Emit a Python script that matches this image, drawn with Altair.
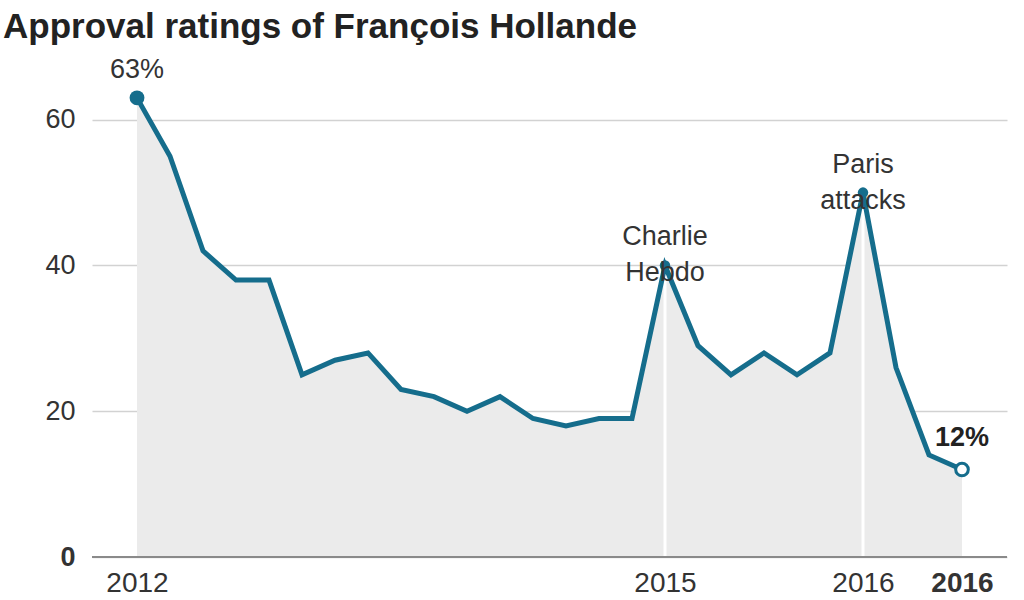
import altair as alt
import pandas as pd

# ---- data ----
period = list(range(26))
approval = [63, 55, 42, 38, 38, 25, 27, 28, 23, 22, 20, 22, 19, 18, 19, 19,
            40, 29, 25, 28, 25, 28, 50, 26, 14, 12]
tick_pos = [0, 16, 22, 25]
tick_labels = ["2012", "2015", "2016", "2016"]
y_ticks = [0, 20, 40, 60]
event_idx = [16, 22]
event_labels = ["Charlie\nHebdo", "Paris\nattacks"]

FONT = "Liberation Sans"
TEAL = "#156d8c"

df = pd.DataFrame({"i": period, "v": approval})
events = pd.DataFrame({"i": event_idx, "v": [approval[k] for k in event_idx],
                       "label": event_labels})
first = df.iloc[[0]].assign(label=lambda d: d["v"].astype(int).astype(str) + "%")
last = df.iloc[[-1]].assign(label=lambda d: d["v"].astype(int).astype(str) + "%")
zero = pd.DataFrame({"v": [0]})

label_expr = " : ".join(
    f"datum.value == {p} ? '{l}'" for p, l in zip(tick_pos, tick_labels)
) + " : ''"

xs = alt.Scale(domain=[-1.364, 26.364], nice=False, zero=False)
ys = alt.Scale(domain=[0, 66], nice=False)

x_enc = alt.X("i:Q", scale=xs, title=None,
              axis=alt.Axis(values=tick_pos, labelExpr=label_expr, grid=False,
                            ticks=False, domain=False, labelFontSize=28,
                            labelFont=FONT, labelColor="#333", labelPadding=12,
                            labelFontWeight=alt.ExprRef(expr="datum.value == 25 ? 'bold' : 'normal'"),
                            labelFlush=False, labelOverlap=False))
y_enc = alt.Y("v:Q", scale=ys, title=None,
              axis=alt.Axis(values=y_ticks, grid=True, gridColor="#d2d2d2",
                            gridWidth=1.5, ticks=False, domain=False,
                            labelFontSize=27, labelFont=FONT, labelColor="#333",
                            labelPadding=17, labelAlign="right",
                            labelBaseline="middle",
                            labelFontWeight=alt.ExprRef(expr="datum.value == 0 ? 'bold' : 'normal'")))

base = alt.Chart(df)

area = base.mark_area(color="#ebebeb", opacity=1).encode(x=x_enc, y=y_enc)

white_rules = alt.Chart(events).mark_rule(color="white", strokeWidth=3).encode(
    x=alt.X("i:Q", scale=xs), y=alt.Y("v:Q", scale=ys), y2=alt.datum(0))

zero_rule = alt.Chart(zero).mark_rule(color="#8a8a8a", strokeWidth=2).encode(
    y=alt.Y("v:Q", scale=ys))

line = base.mark_line(color=TEAL, strokeWidth=5).encode(
    x=alt.X("i:Q", scale=xs), y=alt.Y("v:Q", scale=ys))

first_pt = alt.Chart(first).mark_point(filled=True, color=TEAL, size=220, opacity=1).encode(
    x=alt.X("i:Q", scale=xs), y=alt.Y("v:Q", scale=ys))
event_pts = alt.Chart(events).mark_point(filled=True, color=TEAL, size=110, opacity=1).encode(
    x=alt.X("i:Q", scale=xs), y=alt.Y("v:Q", scale=ys))
last_pt = alt.Chart(last).mark_point(filled=True, fill="white", stroke=TEAL,
                                     strokeWidth=3, size=160, opacity=1).encode(
    x=alt.X("i:Q", scale=xs), y=alt.Y("v:Q", scale=ys))

first_txt = alt.Chart(first).mark_text(font=FONT, fontSize=27, color="#333",
                                       baseline="middle", dy=-28).encode(
    x=alt.X("i:Q", scale=xs), y=alt.Y("v:Q", scale=ys), text="label:N")
last_txt = alt.Chart(last).mark_text(font=FONT, fontSize=27, fontWeight="bold",
                                     color="#222", baseline="middle", dy=-32).encode(
    x=alt.X("i:Q", scale=xs), y=alt.Y("v:Q", scale=ys), text="label:N")
event_txt = alt.Chart(events).mark_text(font=FONT, fontSize=27, color="#333",
                                        baseline="middle", lineBreak="\n",
                                        lineHeight=36, dy=-28).encode(
    x=alt.X("i:Q", scale=xs), y=alt.Y("v:Q", scale=ys), text="label:N")

chart = alt.layer(
    area, white_rules, zero_rule, line, first_pt, event_pts, last_pt,
    first_txt, last_txt, event_txt
).properties(
    width=915, height=481,
    padding={"left": 92, "top": 76, "right": 17, "bottom": 43},
    autosize=alt.AutoSizeParams(type="none"),
    title=alt.TitleParams("Approval ratings of François Hollande", anchor="start",
                          frame="group", dx=-89, dy=37, font=FONT, fontSize=35,
                          fontWeight="bold", color="#222", baseline="alphabetic",
                          offset=20),
    background="white",
).configure_view(stroke=None)

chart.save("out.html", embed_options={"renderer": "svg", "actions": False})
